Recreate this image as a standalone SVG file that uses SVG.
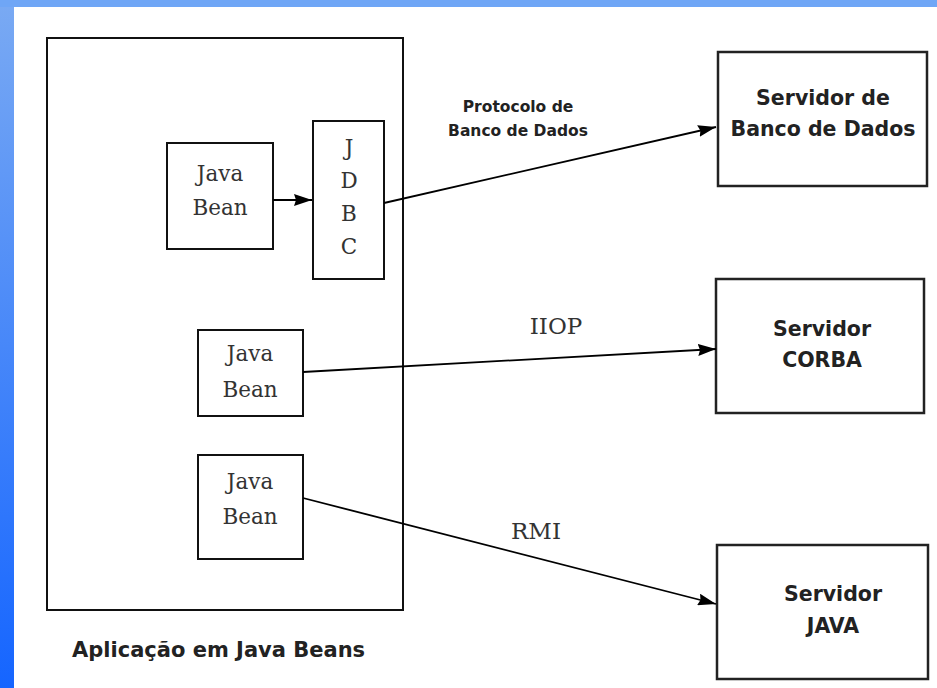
<svg xmlns="http://www.w3.org/2000/svg" width="937" height="688" viewBox="0 0 937 688">
<defs>
<linearGradient id="side" x1="0" y1="0" x2="0" y2="1">
<stop offset="0" stop-color="#7aaaf3"/>
<stop offset="1" stop-color="#1565ff"/>
</linearGradient>
<marker id="arr" viewBox="0 0 18 12" refX="18" refY="6" markerWidth="18" markerHeight="12" markerUnits="userSpaceOnUse" orient="auto">
<path d="M0,0 L18,6 L0,12 L2,6 z" fill="#000"/>
</marker>
<style>
.box{fill:#fff;stroke:#111;stroke-width:2}
.sbox{fill:#fff;stroke:#222;stroke-width:2.5}
.serif{font-family:"DejaVu Serif","Liberation Serif",serif;fill:#333;text-anchor:middle}
.sans{font-family:"DejaVu Sans","Liberation Sans",sans-serif;font-weight:bold;fill:#222;text-anchor:middle}
.conn{stroke:#000;stroke-width:1.8;fill:none;marker-end:url(#arr)}
</style>
</defs>
<rect x="0" y="0" width="937" height="688" fill="#fff"/>
<rect x="0" y="0" width="14" height="688" fill="url(#side)"/>
<rect x="0" y="0" width="937" height="7" fill="#6fa6f6"/>

<g id="app">
<rect class="box" x="47" y="38" width="356" height="572"/>
<text class="sans" x="72" y="657" style="text-anchor:start;font-size:21px">Aplicação em Java Beans</text>
</g>

<g id="bean1">
<rect class="box" x="167" y="143" width="106" height="106"/>
<text class="serif" x="220" y="181" font-size="21.5">Java</text>
<text class="serif" x="220" y="215" font-size="21.5">Bean</text>
</g>

<g id="jdbc">
<rect class="box" x="313" y="121" width="71" height="158"/>
<text class="serif" x="349" y="155" font-size="21.5">J</text>
<text class="serif" x="349" y="188" font-size="21.5">D</text>
<text class="serif" x="349" y="221" font-size="21.5">B</text>
<text class="serif" x="349" y="254" font-size="21.5">C</text>
</g>

<g id="bean2">
<rect class="box" x="198" y="330" width="105" height="86"/>
<text class="serif" x="250" y="361" font-size="21.5">Java</text>
<text class="serif" x="250" y="397" font-size="21.5">Bean</text>
</g>

<g id="bean3">
<rect class="box" x="198" y="455" width="105" height="104"/>
<text class="serif" x="250" y="489" font-size="21.5">Java</text>
<text class="serif" x="250" y="524" font-size="21.5">Bean</text>
</g>

<g id="srv-bd">
<rect class="sbox" x="718" y="52" width="209" height="134"/>
<text class="sans" x="823" y="105" font-size="20.5">Servidor de</text>
<text class="sans" x="823" y="136" font-size="20.5">Banco de Dados</text>
</g>

<g id="srv-corba">
<rect class="sbox" x="716" y="279" width="208" height="134"/>
<text class="sans" x="822" y="336" font-size="20.5">Servidor</text>
<text class="sans" x="822" y="367" font-size="20.5">CORBA</text>
</g>

<g id="srv-java">
<rect class="sbox" x="717" y="545" width="211" height="134"/>
<text class="sans" x="833" y="601" font-size="20.5">Servidor</text>
<text class="sans" x="833" y="633" font-size="20.5">JAVA</text>
</g>

<g id="connectors">
<line class="conn" x1="273" y1="200" x2="312" y2="200"/>
<line class="conn" x1="384" y1="203" x2="716" y2="127"/>
<line class="conn" x1="303" y1="372" x2="716" y2="349"/>
<line class="conn" x1="303" y1="498" x2="716" y2="604"/>
<text class="sans" x="518" y="112" font-size="15.5">Protocolo de</text>
<text class="sans" x="518" y="136" font-size="15.5">Banco de Dados</text>
<text class="serif" x="556" y="334" font-size="23">IIOP</text>
<text class="serif" x="536" y="539" font-size="23">RMI</text>
</g>
</svg>
